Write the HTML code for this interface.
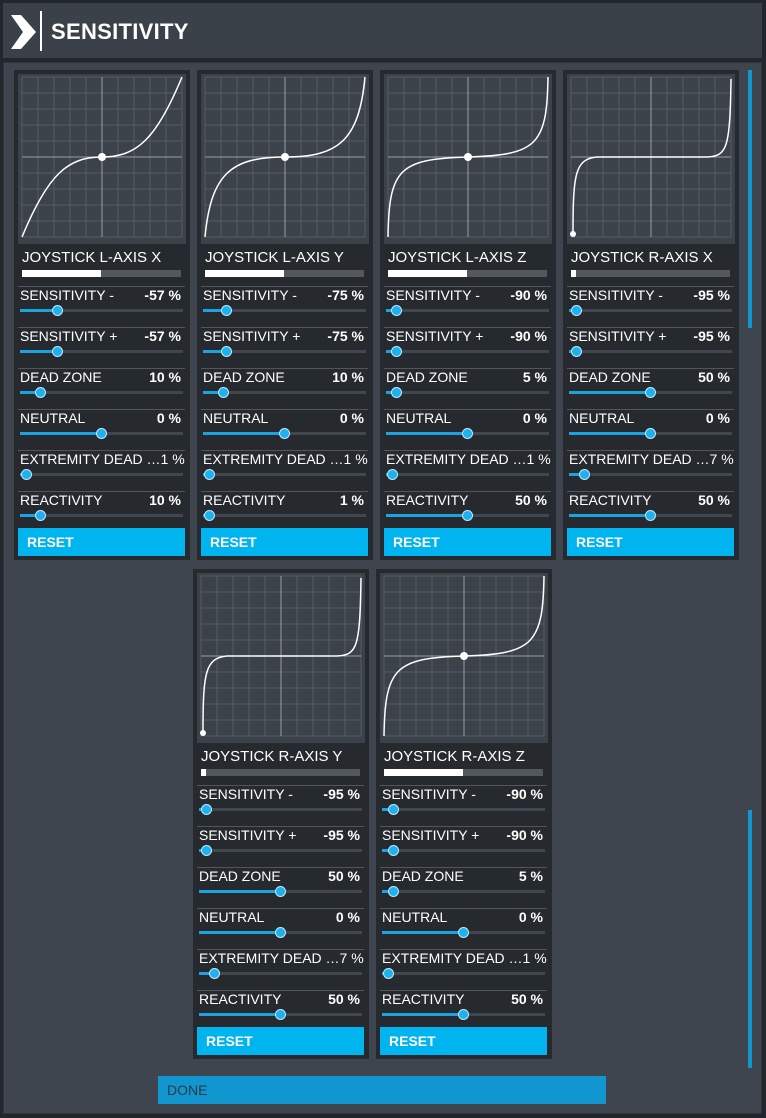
<!DOCTYPE html>
<html><head><meta charset="utf-8"><style>
*{margin:0;padding:0;box-sizing:border-box}
body{width:766px;height:1118px;background:#23272c;font-family:"Liberation Sans",sans-serif;position:relative;overflow:hidden;color:#fff}
.hdr{position:absolute;left:3px;top:3px;width:759px;height:55px;background:#3b4149}
.hdr .t{position:absolute;left:48px;top:16px;font-size:22px;font-weight:bold;letter-spacing:0.3px}
.hdr .bar{position:absolute;left:37px;top:8px;width:2px;height:40px;background:#fff}
.panel{position:absolute;left:3px;top:62px;width:759px;height:1052px;background:#3e454e;border:1px solid #2f343a}
.card{position:absolute;width:176px;height:490px;background:#262a2f}
.g{position:absolute;left:4px;top:4px;width:168px;height:170px;background:#3c424a}
.ttl{position:absolute;left:8px;top:179px;font-size:15px}
.pb{position:absolute;left:8px;top:200px;width:159px;height:7px;background:#53585e}
.pb i{position:absolute;left:0;top:0;height:7px;background:#fff}
.row{position:absolute;left:4px;width:167px;height:41px;border-top:1px solid #50565d}
.row .l{position:absolute;left:2px;top:0px;font-size:14px}
.row .v{position:absolute;right:4px;top:0px;font-size:14px;font-weight:bold}
.row .tr{position:absolute;left:2px;top:22px;width:163px;height:3px;background:#41474e}
.row .f{position:absolute;left:2px;top:22px;height:3px;background:#1aa3e0}
.row .k{position:absolute;top:18px;width:11px;height:11px;border-radius:50%;background:#1fb0ee;border:1px solid #bfe9fa;margin-left:-5px}
.rst{position:absolute;left:4px;top:458px;width:167px;height:28px;background:#00b4f0;font-size:14px;font-weight:bold;padding:6px 0 0 9px}
.sb{position:absolute;left:748px;width:4px;background:#1296cf}
.done{position:absolute;left:158px;top:1076px;width:448px;height:28px;background:#1296cf;color:#2d3a48;font-size:14px;padding:6px 0 0 9px}
</style></head><body>
<div class="hdr"><svg style="position:absolute;left:8px;top:12px" width="26" height="34"><polygon points="0,0 10,0 25,17 10,34 0,34 12,17" fill="#fff"/></svg><div class="bar"></div><div class="t">SENSITIVITY</div></div>
<div class="panel"></div>
<div class="sb" style="top:70px;height:258px"></div>
<div class="sb" style="top:810px;height:258px"></div>

<svg width="0" height="0" style="position:absolute"><defs>
<g id="grid" stroke="#565c64" stroke-width="1">
<path d="M4,3V163M20,3V163M36,3V163M52,3V163M68,3V163M100,3V163M116,3V163M132,3V163M148,3V163M164,3V163M4,3H164M4,19H164M4,35H164M4,51H164M4,67H164M4,99H164M4,115H164M4,131H164M4,147H164M4,163H164"/>
<path d="M84,3V163M4,83H164" stroke="#9a9fa5"/>
</g></defs></svg>

<!-- card 1 -->
<div class="card" style="left:14px;top:70px">
<div class="g"><svg width="168" height="170"><use href="#grid"/><path d="M4,163 C30,100 50,83 84,83 C118,83 138,66 164,3" fill="none" stroke="#fff" stroke-width="1.5"/><circle cx="84" cy="83" r="4" fill="#fff"/></svg></div>
<div class="ttl">JOYSTICK L-AXIS X</div><div class="pb"><i style="width:79px"></i></div>
<div class="row" style="top:216px"><span class="l">SENSITIVITY -</span><span class="v">-57 %</span><div class="tr"></div><div class="f" style="width:37px"></div><div class="k" style="left:39px"></div></div>
<div class="row" style="top:257px"><span class="l">SENSITIVITY +</span><span class="v">-57 %</span><div class="tr"></div><div class="f" style="width:37px"></div><div class="k" style="left:39px"></div></div>
<div class="row" style="top:298px"><span class="l">DEAD ZONE</span><span class="v">10 %</span><div class="tr"></div><div class="f" style="width:20px"></div><div class="k" style="left:22px"></div></div>
<div class="row" style="top:339px"><span class="l">NEUTRAL</span><span class="v">0 %</span><div class="tr"></div><div class="f" style="width:81px"></div><div class="k" style="left:83px"></div></div>
<div class="row" style="top:380px"><span class="l">EXTREMITY DEAD …1 %</span><div class="tr"></div><div class="f" style="width:6px"></div><div class="k" style="left:8px"></div></div>
<div class="row" style="top:421px"><span class="l">REACTIVITY</span><span class="v">10 %</span><div class="tr"></div><div class="f" style="width:20px"></div><div class="k" style="left:22px"></div></div>
<div class="rst">RESET</div></div>

<!-- card 2 -->
<div class="card" style="left:197px;top:70px">
<div class="g"><svg width="168" height="170"><use href="#grid"/><path d="M4,163 C10,100 30,83 84,83 C138,83 158,66 164,3" fill="none" stroke="#fff" stroke-width="1.5"/><circle cx="84" cy="83" r="4" fill="#fff"/></svg></div>
<div class="ttl">JOYSTICK L-AXIS Y</div><div class="pb"><i style="width:79px"></i></div>
<div class="row" style="top:216px"><span class="l">SENSITIVITY -</span><span class="v">-75 %</span><div class="tr"></div><div class="f" style="width:23px"></div><div class="k" style="left:25px"></div></div>
<div class="row" style="top:257px"><span class="l">SENSITIVITY +</span><span class="v">-75 %</span><div class="tr"></div><div class="f" style="width:23px"></div><div class="k" style="left:25px"></div></div>
<div class="row" style="top:298px"><span class="l">DEAD ZONE</span><span class="v">10 %</span><div class="tr"></div><div class="f" style="width:20px"></div><div class="k" style="left:22px"></div></div>
<div class="row" style="top:339px"><span class="l">NEUTRAL</span><span class="v">0 %</span><div class="tr"></div><div class="f" style="width:81px"></div><div class="k" style="left:83px"></div></div>
<div class="row" style="top:380px"><span class="l">EXTREMITY DEAD …1 %</span><div class="tr"></div><div class="f" style="width:6px"></div><div class="k" style="left:8px"></div></div>
<div class="row" style="top:421px"><span class="l">REACTIVITY</span><span class="v">1 %</span><div class="tr"></div><div class="f" style="width:6px"></div><div class="k" style="left:8px"></div></div>
<div class="rst">RESET</div></div>

<!-- card 3 -->
<div class="card" style="left:380px;top:70px">
<div class="g"><svg width="168" height="170"><use href="#grid"/><path d="M4,163 C5,95 15,85 84,83 C153,81 163,71 164,3" fill="none" stroke="#fff" stroke-width="1.5"/><circle cx="84" cy="83" r="4" fill="#fff"/></svg></div>
<div class="ttl">JOYSTICK L-AXIS Z</div><div class="pb"><i style="width:79px"></i></div>
<div class="row" style="top:216px"><span class="l">SENSITIVITY -</span><span class="v">-90 %</span><div class="tr"></div><div class="f" style="width:10px"></div><div class="k" style="left:12px"></div></div>
<div class="row" style="top:257px"><span class="l">SENSITIVITY +</span><span class="v">-90 %</span><div class="tr"></div><div class="f" style="width:10px"></div><div class="k" style="left:12px"></div></div>
<div class="row" style="top:298px"><span class="l">DEAD ZONE</span><span class="v">5 %</span><div class="tr"></div><div class="f" style="width:10px"></div><div class="k" style="left:12px"></div></div>
<div class="row" style="top:339px"><span class="l">NEUTRAL</span><span class="v">0 %</span><div class="tr"></div><div class="f" style="width:81px"></div><div class="k" style="left:83px"></div></div>
<div class="row" style="top:380px"><span class="l">EXTREMITY DEAD …1 %</span><div class="tr"></div><div class="f" style="width:6px"></div><div class="k" style="left:8px"></div></div>
<div class="row" style="top:421px"><span class="l">REACTIVITY</span><span class="v">50 %</span><div class="tr"></div><div class="f" style="width:81px"></div><div class="k" style="left:83px"></div></div>
<div class="rst">RESET</div></div>

<!-- card 4 -->
<div class="card" style="left:563px;top:70px">
<div class="g"><svg width="168" height="170"><use href="#grid"/><path d="M6,160 C6,100 8,85 30,83 L140,83 C160,82 163,75 164,5" fill="none" stroke="#fff" stroke-width="1.5"/><circle cx="6" cy="160" r="3" fill="#fff"/></svg></div>
<div class="ttl">JOYSTICK R-AXIS X</div><div class="pb"><i style="width:5px"></i></div>
<div class="row" style="top:216px"><span class="l">SENSITIVITY -</span><span class="v">-95 %</span><div class="tr"></div><div class="f" style="width:7px"></div><div class="k" style="left:9px"></div></div>
<div class="row" style="top:257px"><span class="l">SENSITIVITY +</span><span class="v">-95 %</span><div class="tr"></div><div class="f" style="width:7px"></div><div class="k" style="left:9px"></div></div>
<div class="row" style="top:298px"><span class="l">DEAD ZONE</span><span class="v">50 %</span><div class="tr"></div><div class="f" style="width:81px"></div><div class="k" style="left:83px"></div></div>
<div class="row" style="top:339px"><span class="l">NEUTRAL</span><span class="v">0 %</span><div class="tr"></div><div class="f" style="width:81px"></div><div class="k" style="left:83px"></div></div>
<div class="row" style="top:380px"><span class="l">EXTREMITY DEAD …7 %</span><div class="tr"></div><div class="f" style="width:15px"></div><div class="k" style="left:17px"></div></div>
<div class="row" style="top:421px"><span class="l">REACTIVITY</span><span class="v">50 %</span><div class="tr"></div><div class="f" style="width:81px"></div><div class="k" style="left:83px"></div></div>
<div class="rst">RESET</div></div>

<!-- card 5 -->
<div class="card" style="left:193px;top:569px">
<div class="g"><svg width="168" height="170"><use href="#grid"/><path d="M6,160 C6,100 8,85 30,83 L140,83 C160,82 163,75 164,5" fill="none" stroke="#fff" stroke-width="1.5"/><circle cx="6" cy="160" r="3" fill="#fff"/></svg></div>
<div class="ttl">JOYSTICK R-AXIS Y</div><div class="pb"><i style="width:5px"></i></div>
<div class="row" style="top:216px"><span class="l">SENSITIVITY -</span><span class="v">-95 %</span><div class="tr"></div><div class="f" style="width:7px"></div><div class="k" style="left:9px"></div></div>
<div class="row" style="top:257px"><span class="l">SENSITIVITY +</span><span class="v">-95 %</span><div class="tr"></div><div class="f" style="width:7px"></div><div class="k" style="left:9px"></div></div>
<div class="row" style="top:298px"><span class="l">DEAD ZONE</span><span class="v">50 %</span><div class="tr"></div><div class="f" style="width:81px"></div><div class="k" style="left:83px"></div></div>
<div class="row" style="top:339px"><span class="l">NEUTRAL</span><span class="v">0 %</span><div class="tr"></div><div class="f" style="width:81px"></div><div class="k" style="left:83px"></div></div>
<div class="row" style="top:380px"><span class="l">EXTREMITY DEAD …7 %</span><div class="tr"></div><div class="f" style="width:15px"></div><div class="k" style="left:17px"></div></div>
<div class="row" style="top:421px"><span class="l">REACTIVITY</span><span class="v">50 %</span><div class="tr"></div><div class="f" style="width:81px"></div><div class="k" style="left:83px"></div></div>
<div class="rst">RESET</div></div>

<!-- card 6 -->
<div class="card" style="left:376px;top:569px">
<div class="g"><svg width="168" height="170"><use href="#grid"/><path d="M4,163 C5,95 15,85 84,83 C153,81 163,71 164,3" fill="none" stroke="#fff" stroke-width="1.5"/><circle cx="84" cy="83" r="4" fill="#fff"/></svg></div>
<div class="ttl">JOYSTICK R-AXIS Z</div><div class="pb"><i style="width:79px"></i></div>
<div class="row" style="top:216px"><span class="l">SENSITIVITY -</span><span class="v">-90 %</span><div class="tr"></div><div class="f" style="width:11px"></div><div class="k" style="left:13px"></div></div>
<div class="row" style="top:257px"><span class="l">SENSITIVITY +</span><span class="v">-90 %</span><div class="tr"></div><div class="f" style="width:11px"></div><div class="k" style="left:13px"></div></div>
<div class="row" style="top:298px"><span class="l">DEAD ZONE</span><span class="v">5 %</span><div class="tr"></div><div class="f" style="width:11px"></div><div class="k" style="left:13px"></div></div>
<div class="row" style="top:339px"><span class="l">NEUTRAL</span><span class="v">0 %</span><div class="tr"></div><div class="f" style="width:81px"></div><div class="k" style="left:83px"></div></div>
<div class="row" style="top:380px"><span class="l">EXTREMITY DEAD …1 %</span><div class="tr"></div><div class="f" style="width:6px"></div><div class="k" style="left:8px"></div></div>
<div class="row" style="top:421px"><span class="l">REACTIVITY</span><span class="v">50 %</span><div class="tr"></div><div class="f" style="width:81px"></div><div class="k" style="left:83px"></div></div>
<div class="rst">RESET</div></div>

<div class="done">DONE</div>
</body></html>
